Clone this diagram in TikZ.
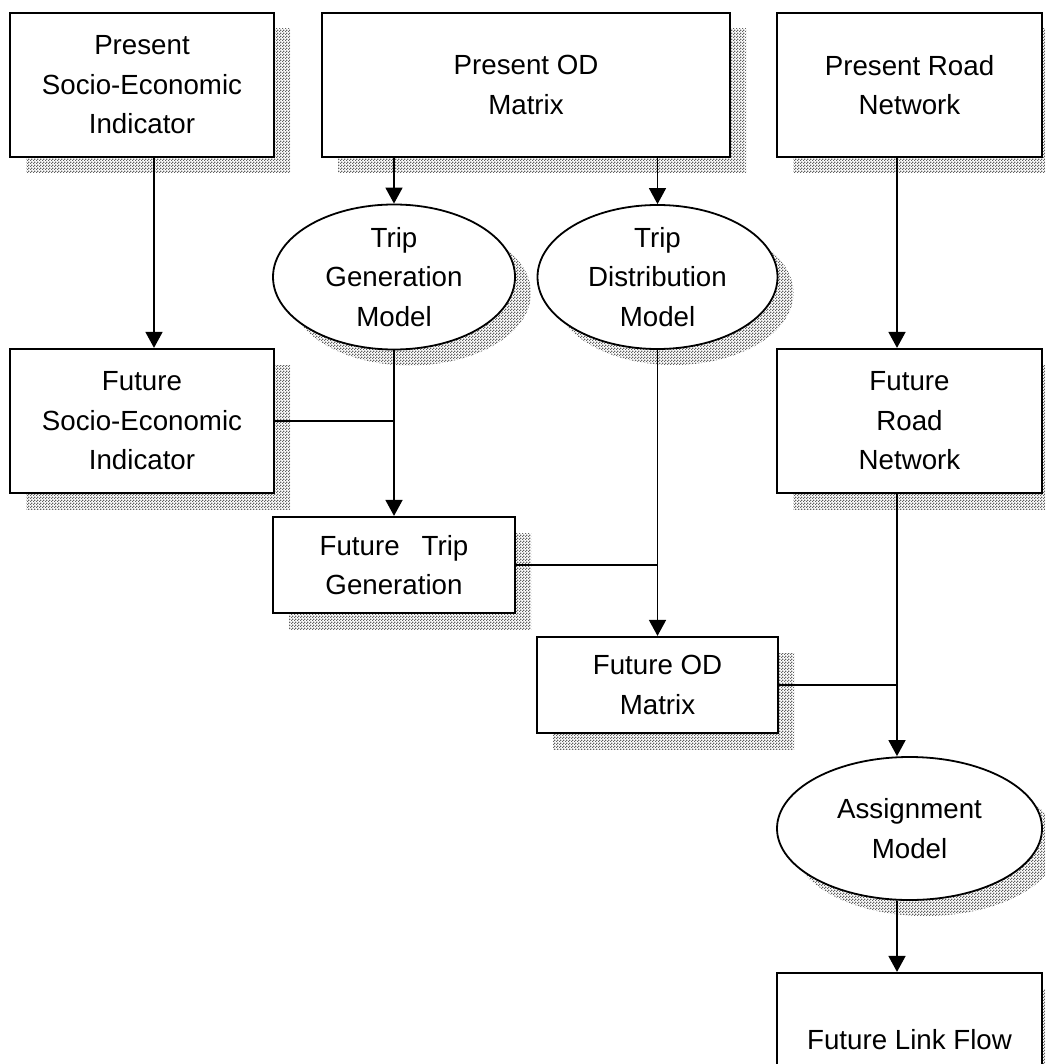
\documentclass[tikz,border=0pt]{standalone}
\usepackage{fontspec}
\setmainfont{Liberation Sans}
\usetikzlibrary{shapes.geometric,shadows,arrows.meta,patterns.meta}

% fine checkered fill used for the drop shadows
\pgfdeclarepattern{
  name=finechecker, type=uncolored,
  bottom left={\pgfpoint{0pt}{0pt}}, top right={\pgfpoint{2.7pt}{2.7pt}},
  tile size={\pgfpoint{2.7pt}{2.7pt}},
  code={
    \pgfpathrectangle{\pgfpoint{0pt}{0pt}}{\pgfpoint{1.35pt}{1.35pt}}
    \pgfpathrectangle{\pgfpoint{1.35pt}{1.35pt}}{\pgfpoint{1.35pt}{1.35pt}}
    \pgfusepath{fill}
  }}

\tikzset{
  base/.style={fill=white, align=center, inner sep=0pt,
    font=\fontsize{27.7}{39.5}\selectfont,
    drop shadow={shadow xshift=16pt, shadow yshift=-16pt, opacity=1,
      fill=white, pattern={finechecker}, pattern color=black!62}},
  box/.style={base, draw, line width=2.2pt, rectangle},
  oval/.style={base, draw, line width=1.8pt, ellipse},
  link/.style={line width=1.6pt},
  arr/.style={link, -{Triangle[width=17pt,length=16pt]}}
}

\begin{document}
\begin{tikzpicture}[x=1pt,y=-1pt]
\useasboundingbox (0,0) rectangle (1045,1064);
\clip (0,0) rectangle (1045,1064);

% present data
\node[box, minimum width=264pt, minimum height=144pt] (ps) at (142,85)
  {Present\\Socio-Economic\\Indicator};
\node[box, minimum width=408pt, minimum height=144pt] (pod) at (526,85)
  {Present OD\\Matrix};
\node[box, minimum width=265pt, minimum height=144pt] (prn) at (909.5,85)
  {Present Road\\Network};

% models
\node[oval, minimum width=242pt, minimum height=145pt] (tg) at (394,277)
  {Trip\\Generation\\Model};
\node[oval, minimum width=240pt, minimum height=144pt] (td) at (657.5,277)
  {Trip\\Distribution\\Model};

% future data
\node[box, minimum width=264pt, minimum height=144pt] (fs) at (142,421)
  {Future\\Socio-Economic\\Indicator};
\node[box, minimum width=265pt, minimum height=144pt] (frn) at (909.5,421)
  {Future\\Road\\Network};
\node[box, minimum width=242pt, minimum height=96pt] (ftg) at (394,565)
  {Future\hspace{22pt}Trip\\Generation};
\node[box, minimum width=241pt, minimum height=96pt] (fod) at (657.5,685)
  {Future OD\\Matrix};
\node[oval, minimum width=265pt, minimum height=143pt] (am) at (909.5,828.5)
  {Assignment\\Model};
\node[box, minimum width=265pt, minimum height=134pt] (flf) at (909.5,1040)
  {Future Link Flow};

% connectors
\draw[arr] ([xshift=12pt]ps.south) -- ([xshift=12pt]fs.north);
\draw[arr] (pod.south -| tg.north) -- (tg.north);
\draw[arr] (pod.south -| td.north) -- (td.north);
\draw[arr] ([xshift=-12.5pt]prn.south) -- ([xshift=-12.5pt]frn.north);

\draw[arr] (tg.south) -- (ftg.north);
\draw[link] (fs.east) -- (fs.east -| tg.south);

\draw[arr] (td.south) -- (fod.north);
\draw[link] (ftg.east) -- (ftg.east -| td.south);

\coordinate (rn) at ([xshift=-12.5pt]frn.south);
\draw[arr] (rn) -- (rn |- am.north);
\draw[link] (fod.east) -- (fod.east -| rn);

\draw[arr] (am.south -| rn) -- (flf.north -| rn);
\end{tikzpicture}
\end{document}
